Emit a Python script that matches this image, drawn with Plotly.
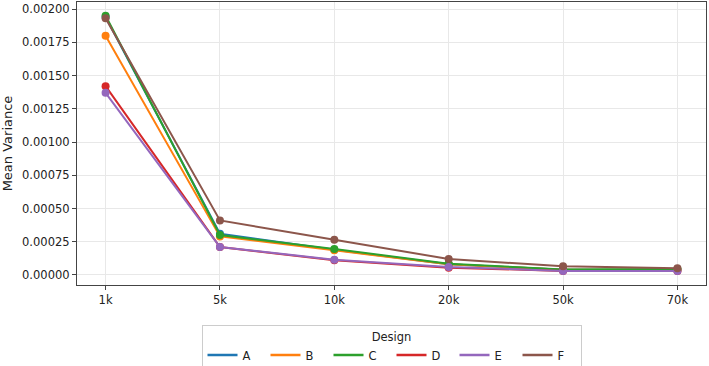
import plotly.graph_objects as go

categories = ["1k", "5k", "10k", "20k", "50k", "70k"]
designs = ["A", "B", "C", "D", "E", "F"]
vals_A = [0.00194, 0.000310, 0.000190, 0.000080, 0.000040, 0.000040]
vals_B = [0.00180, 0.000290, 0.000185, 0.000080, 0.000040, 0.000040]
vals_C = [0.00195, 0.000300, 0.000195, 0.000085, 0.000042, 0.000045]
vals_D = [0.00142, 0.000210, 0.000110, 0.000055, 0.000030, 0.000030]
vals_E = [0.00137, 0.000210, 0.000115, 0.000060, 0.000030, 0.000030]
vals_F = [0.00193, 0.000410, 0.000265, 0.000120, 0.000065, 0.000050]
colors = ["#1f77b4", "#ff7f0e", "#2ca02c", "#d62728", "#9467bd", "#8c564b"]
series = [vals_A, vals_B, vals_C, vals_D, vals_E, vals_F]

fig = go.Figure()
for name, vals, c in zip(designs, series, colors):
    fig.add_trace(go.Scatter(x=categories, y=vals, mode="lines+markers", name=name,
                             line=dict(color=c, width=2), marker=dict(color=c, size=8),
                             showlegend=False))
for name, c in zip(designs, colors):
    fig.add_trace(go.Scatter(x=[None], y=[None], mode="lines", name=name,
                             line=dict(color=c, width=2.5)))

fig.update_layout(
    width=709, height=366,
    margin=dict(l=77, r=3, t=2, b=81, autoexpand=False),
    paper_bgcolor="white", plot_bgcolor="white",
    font=dict(family="DejaVu Sans", size=11.5, color="#222"),
    showlegend=True,
    legend=dict(orientation="h", x=0.5, xanchor="center", y=-0.14, yanchor="top",
                title=dict(text="Design", side="top center", font=dict(size=11.5)),
                bordercolor="#cccccc", borderwidth=1, entrywidth=18,
                font=dict(size=11.5)),
)
fig.update_xaxes(type="category", range=[-0.25, 5.25], showgrid=True, gridcolor="#e8e8e8",
                 showline=True, linecolor="#444", linewidth=1.2, mirror=True, automargin=False,
                 ticks="outside", ticklen=4, tickcolor="#444")
fig.update_yaxes(range=[-0.0000755, 0.002053], tickvals=[0, 0.00025, 0.0005, 0.00075, 0.001, 0.00125, 0.0015, 0.00175, 0.002],
                 tickformat=".5f", showgrid=True, gridcolor="#e8e8e8", zeroline=False,
                 showline=True, linecolor="#444", linewidth=1.2, mirror=True, automargin=False,
                 ticks="outside", ticklen=4, tickcolor="#444",
                 title=dict(text="Mean Variance", font=dict(size=13), standoff=6))
fig.write_html("out.html", config={"displayModeBar": False},
               post_script="document.body.style.margin='0';document.body.style.overflow='hidden';")
